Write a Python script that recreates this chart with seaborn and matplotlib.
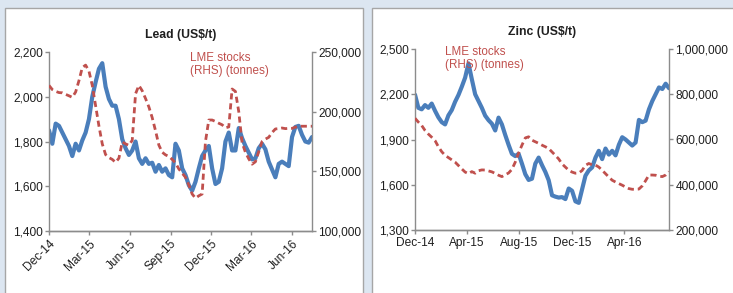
import matplotlib
matplotlib.use("Agg")
import matplotlib.dates as mdates
import matplotlib.patches as mpatches
import matplotlib.ticker as mticker
import pandas as pd
import seaborn as sns
from matplotlib import pyplot as plt

# Lead price (US$/t), roughly weekly from Dec-14 to mid Jul-16
lead_price = [1850, 1790, 1880, 1870, 1840, 1810, 1780, 1735, 1790, 1760,
              1805, 1840, 1900, 2000, 2065, 2125, 2150, 2045, 1990, 1960,
              1960, 1900, 1810, 1770, 1740, 1760, 1800, 1725, 1700, 1725,
              1700, 1705, 1665, 1695, 1665, 1680, 1650, 1640, 1790, 1760,
              1680, 1650, 1605, 1580, 1620, 1680, 1735, 1760, 1780, 1680,
              1610, 1620, 1680, 1800, 1840, 1760, 1760, 1860, 1815, 1780,
              1750, 1720, 1725, 1770, 1790, 1765, 1710, 1675, 1640, 1700,
              1710, 1700, 1690, 1820, 1865, 1870, 1830, 1800, 1795, 1820]

# Lead LME stocks (tonnes)
lead_stocks = [222000, 218500, 217000, 216000, 215800, 214500, 213300, 212000, 216500, 226000,
               237000, 239000, 234000, 222000, 205000, 188000, 173000, 164000, 161500, 160000,
               157500, 161000, 174600, 173000, 171800, 176000, 215000, 222000, 217500, 211000,
               204000, 195000, 184000, 172000, 166000, 163800, 162500, 160000, 157000, 152000,
               148500, 145000, 138500, 131000, 127500, 129500, 131000, 175000, 193000, 193000,
               191800, 190300, 189000, 186500, 187200, 219000, 217000, 200000, 174000, 166000,
               160500, 156000, 158000, 166500, 175000, 177000, 178500, 182500, 185500, 185800,
               186300, 185800, 186000, 186000, 187000, 187800, 187800, 187800, 187800, 187800]

# Zinc price (US$/t)
zinc_price = [2197, 2110, 2100, 2128, 2110, 2138, 2090, 2047, 2015, 2000,
              2060, 2095, 2150, 2195, 2250, 2310, 2405, 2300, 2200, 2155,
              2110, 2058, 2028, 2005, 1960, 2045, 2000, 1930, 1865, 1805,
              1790, 1805, 1740, 1670, 1632, 1640, 1740, 1780, 1730, 1685,
              1630, 1530, 1521, 1515, 1518, 1505, 1575, 1560, 1490, 1480,
              1570, 1660, 1695, 1715, 1780, 1825, 1770, 1840, 1800, 1825,
              1795, 1865, 1915, 1900, 1880, 1860, 1880, 2030, 2015, 2025,
              2100, 2155, 2200, 2245, 2235, 2270, 2240]

# Zinc LME stocks (tonnes)
zinc_stocks = [694000, 677000, 662000, 640000, 624000, 610000, 595000, 568000, 546000, 530000,
               520000, 510000, 500000, 485000, 470000, 456000, 449000, 458000, 451000, 462000,
               465600, 465000, 461000, 457000, 450000, 442000, 436000, 444000, 452000, 468000,
               500000, 540000, 575000, 607000, 612000, 597000, 590000, 583000, 575000, 568000,
               560000, 545000, 530000, 514000, 492000, 478000, 464000, 456000, 451000, 452000,
               463000, 486000, 494000, 488000, 487000, 478000, 464000, 449000, 434000, 420000,
               412000, 405000, 398000, 390000, 383000, 380000, 380000, 381000, 395000, 418000,
               443000, 443000, 442000, 438000, 436000, 443000, 458000]

start_date = "2014-12-01"
lead_end = "2016-07-16"
zinc_end = "2016-07-14"

BLUE = "#4a7ebb"
RED = "#c0504d"
GREY = "#8c8c8c"
TXT = "#1f1f1f"

sns.set_style("white")
plt.rcParams["font.family"] = ["Liberation Sans", "DejaVu Sans"]

fig = plt.figure(figsize=(7.33, 2.93), dpi=100)
fig.patch.set_facecolor("#dce6f1")

# white panels behind the two charts
for x0, w in [(5 / 733, 358 / 733), (372 / 733, 0.6)]:
    fig.patches.append(mpatches.Rectangle((x0, -0.1), w, 1.1 - 8 / 293,
                                          transform=fig.transFigure, facecolor="white",
                                          edgecolor="#a6a6a6", lw=1.0, zorder=-5))


def make_panel(rect, title, price, stocks, end, ylim, yticks, y2lim, y2ticks,
               months, rotate, note_xy):
    ax = fig.add_axes(rect)
    ax2 = ax.twinx()
    df = pd.DataFrame({"date": pd.date_range(start_date, end, periods=len(price)),
                       "price": price})
    ds = pd.DataFrame({"date": pd.date_range(start_date, end, periods=len(stocks)),
                       "stocks": stocks})
    sns.lineplot(data=df, x="date", y="price", ax=ax, color=BLUE, lw=3.0)
    sns.lineplot(data=ds, x="date", y="stocks", ax=ax2, color=RED, lw=2.0,
                 dashes=False, linestyle=(0, (2.2, 1.4)))

    for a in (ax, ax2):
        a.set_facecolor("none")
        a.set_xlabel("")
        a.set_ylabel("")
        a.spines["top"].set_visible(False)
        for s in ("left", "right", "bottom"):
            a.spines[s].set_color(GREY)
            a.spines[s].set_linewidth(1.0)
        a.tick_params(colors=GREY, labelcolor=TXT, labelsize=8.6, length=3, width=1)
    ax.spines["right"].set_visible(False)
    ax2.spines["left"].set_visible(False)

    ax.set_xlim(pd.Timestamp(start_date), pd.Timestamp(end))
    ax.set_ylim(*ylim)
    ax.set_yticks(yticks)
    ax2.set_ylim(*y2lim)
    ax2.set_yticks(y2ticks)
    fmt = mticker.FuncFormatter(lambda v, p: f"{v:,.0f}")
    ax.yaxis.set_major_formatter(fmt)
    ax2.yaxis.set_major_formatter(fmt)
    ax.tick_params(axis="y", left=True, pad=1.5)
    ax2.tick_params(axis="y", right=True, pad=1.5)
    ax.tick_params(axis="x", bottom=True, pad=2)
    ax.xaxis.set_major_locator(mdates.MonthLocator(bymonth=months))
    ax.xaxis.set_major_formatter(mdates.DateFormatter("%b-%y"))
    if rotate:
        plt.setp(ax.get_xticklabels(), rotation=45, ha="right", rotation_mode="anchor")
    ax.set_title(title, fontsize=8.8, fontweight="bold", color=TXT, pad=10)
    ax.text(note_xy[0], note_xy[1], "LME stocks\n(RHS) (tonnes)", transform=ax.transAxes,
            color=RED, fontsize=8.4, va="top", ha="left", linespacing=1.1)
    return ax, ax2


make_panel([49 / 733, 1 - 231 / 293, 263 / 733, 179 / 293], "Lead (US$/t)",
           lead_price, lead_stocks, lead_end, (1400, 2200), [1400, 1600, 1800, 2000, 2200],
           (100000, 250000), [100000, 150000, 200000, 250000], [3, 6, 9, 12], True,
           (0.535, 1.0))
make_panel([415 / 733, 1 - 230 / 293, 254 / 733, 181 / 293], "Zinc (US$/t)",
           zinc_price, zinc_stocks, zinc_end, (1300, 2500), [1300, 1600, 1900, 2200, 2500],
           (200000, 1000000), [200000, 400000, 600000, 800000, 1000000], [4, 8, 12], False,
           (0.12, 1.015))

fig.savefig("out.png", dpi=100, facecolor=fig.get_facecolor())
